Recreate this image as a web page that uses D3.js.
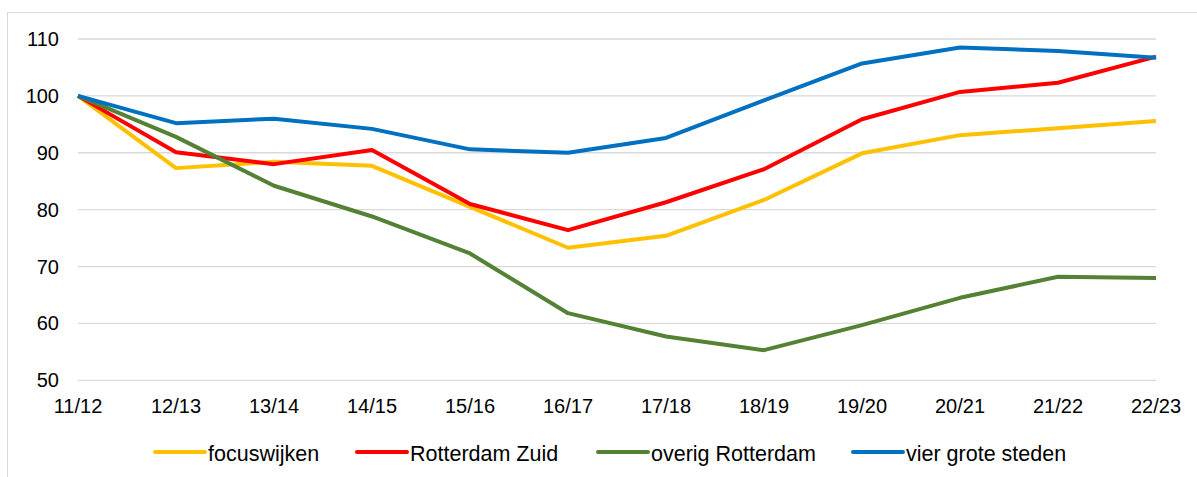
<!DOCTYPE html>
<html lang="nl">
<head>
  <meta charset="UTF-8">
  <title>Index focuswijken</title>
  <style>
    body { margin: 0; background: #fff; }
    svg text { font-family: Arial, "Liberation Sans", sans-serif; fill: #000; }
  </style>
</head>
<body>
  <svg id="svg" width="1197" height="477"></svg>
  <script src="https://d3js.org/d3.v7.min.js"></script>
  <script>
    const years = ['11/12', '12/13', '13/14', '14/15', '15/16', '16/17', '17/18', '18/19', '19/20', '20/21', '21/22', '22/23']
    const yTicks = [50, 60, 70, 80, 90, 100, 110]

    const focuswijken = [100, 87.3, 88.4, 87.7, 80.5, 73.3, 75.4, 81.7, 89.9, 93.1, 94.3, 95.6]
    const rotterdamZuid = [100, 90.1, 88.0, 90.5, 81.0, 76.4, 81.3, 87.1, 95.9, 100.7, 102.3, 106.9]
    const overigRotterdam = [100, 92.8, 84.2, 78.8, 72.3, 61.8, 57.7, 55.3, 59.7, 64.5, 68.2, 68.0]
    const vierGroteSteden = [100, 95.2, 96.0, 94.2, 90.6, 90.0, 92.6, 99.2, 105.7, 108.5, 107.9, 106.7]

    const seriesNames = ['focuswijken', 'Rotterdam Zuid', 'overig Rotterdam', 'vier grote steden']
    const seriesColors = ['#FFC000', '#FF0000', '#548235', '#0070C0']
    const series = [focuswijken, rotterdamZuid, overigRotterdam, vierGroteSteden]

    const svg = d3.select('#svg')

    // chart frame
    svg.append('rect')
      .attr('x', 7.5).attr('y', 12.5)
      .attr('width', 1200).attr('height', 480)
      .attr('fill', 'none')
      .attr('stroke', '#d9d9d9')
      .attr('stroke-width', 1)

    const xscale = d3.scalePoint()
      .domain(years)
      .range([78, 1156])

    const yscale = d3.scaleLinear()
      .domain([50, 110])
      .range([380.3, 39])

    // gridlines
    svg.append('g')
      .selectAll('line')
      .data(yTicks)
      .enter()
      .append('line')
      .attr('x1', 78).attr('x2', 1156)
      .attr('y1', d => yscale(d)).attr('y2', d => yscale(d))
      .attr('stroke', '#d9d9d9')
      .attr('stroke-width', 1.3)

    // y labels
    svg.append('g')
      .selectAll('text')
      .data(yTicks)
      .enter()
      .append('text')
      .attr('x', 59)
      .attr('y', d => yscale(d))
      .attr('dy', '0.35em')
      .attr('text-anchor', 'end')
      .style('font-size', '20px')
      .text(d => d)

    // x labels
    svg.append('g')
      .selectAll('text')
      .data(years)
      .enter()
      .append('text')
      .attr('x', d => xscale(d))
      .attr('y', 412.5)
      .attr('text-anchor', 'middle')
      .style('font-size', '20px')
      .text(d => d)

    const line = d3.line()
      .x((d, i) => xscale(years[i]))
      .y(d => yscale(d))

    svg.append('g')
      .selectAll('path')
      .data(series)
      .enter()
      .append('path')
      .attr('d', d => line(d))
      .attr('fill', 'none')
      .attr('stroke', (d, i) => seriesColors[i])
      .attr('stroke-width', 4)
      .attr('stroke-linejoin', 'round')

    // legend
    const legendX = [155, 357, 598, 853]
    const legend = svg.append('g')
      .selectAll('g')
      .data(seriesNames)
      .enter()
      .append('g')
      .attr('transform', (d, i) => `translate(${legendX[i]}, 452)`)

    legend.append('line')
      .attr('x1', 0).attr('x2', 50)
      .attr('stroke', (d, i) => seriesColors[i])
      .attr('stroke-width', 4)
      .attr('stroke-linecap', 'round')

    legend.append('text')
      .attr('x', 53)
      .attr('y', 1)
      .attr('dy', '0.35em')
      .style('font-size', '21.5px')
      .text(d => d)
  </script>
</body>
</html>
